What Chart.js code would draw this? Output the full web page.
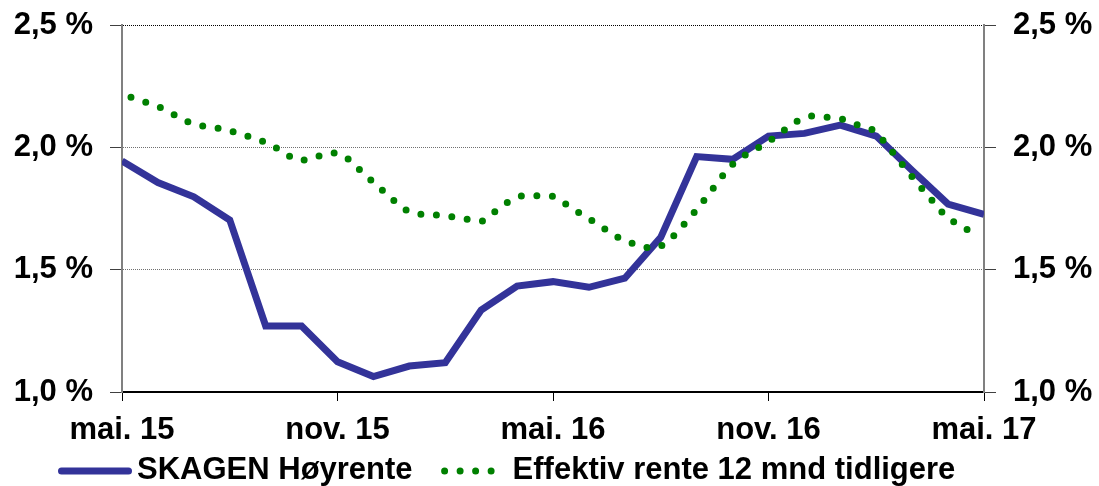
<!DOCTYPE html>
<html>
<head>
<meta charset="utf-8">
<script src="https://cdn.jsdelivr.net/npm/chart.js@4/dist/chart.umd.min.js"></script>
<style>
    html, body { margin: 0; padding: 0; background: #ffffff; }
    #wrap { width: 1099px; height: 486px; position: relative; }
</style>
</head>
<body>
<div id="wrap"><canvas id="chart"></canvas></div>
<script>
// x axis: months since mai. 15
const tickMonths = [0, 6, 12, 18, 24];
const tickLabels = ['mai. 15', 'nov. 15', 'mai. 16', 'nov. 16', 'mai. 17'];

const seriesNames = ['SKAGEN Høyrente', 'Effektiv rente 12 mnd tidligere'];

// SKAGEN Høyrente, monthly (%)
const hoyrente = [
    1.944, 1.856, 1.798, 1.703, 1.270, 1.270, 1.124, 1.063, 1.106, 1.120,
    1.335, 1.433, 1.451, 1.428, 1.465, 1.632, 1.962, 1.951, 2.046, 2.057,
    2.091, 2.046, 1.905, 1.768, 1.726
];

// Effektiv rente 12 mnd tidligere (%)
const effMonths = [
    0.25, 0.69, 1.11, 1.51, 1.92, 2.35, 2.80, 3.24, 3.67, 4.09,
    4.48, 4.89, 5.31, 5.73, 6.13, 6.48, 6.81, 7.15, 7.49, 7.82,
    8.23, 8.68, 9.12, 9.58, 10.02, 10.38, 10.75, 11.14, 11.60, 12.04,
    12.42, 12.80, 13.19, 13.56, 13.96, 14.38, 14.82, 15.17, 15.49, 15.79,
    16.08, 16.35, 16.63, 16.91, 17.25, 17.65, 18.03, 18.40, 18.77, 19.17,
    19.62, 20.06, 20.50, 20.92, 21.23, 21.51, 21.79, 22.07, 22.36, 22.66,
    22.96, 23.34, 23.73
];
const effRente = [
    2.205, 2.183, 2.160, 2.129, 2.099, 2.084, 2.075, 2.057, 2.037, 2.014,
    1.981, 1.948, 1.956, 1.976, 1.970, 1.927, 1.882, 1.838, 1.793, 1.751,
    1.728, 1.724, 1.718, 1.707, 1.698, 1.737, 1.777, 1.802, 1.802, 1.798,
    1.762, 1.726, 1.691, 1.655, 1.620, 1.601, 1.587, 1.612, 1.659, 1.710,
    1.760, 1.812, 1.865, 1.918, 1.959, 1.993, 2.027, 2.066, 2.105, 2.128,
    2.123, 2.115, 2.091, 2.070, 2.022, 1.970, 1.918, 1.867, 1.816, 1.766,
    1.715, 1.680, 1.647
];

const yMin = 1.0;
const yMax = 2.5;
const yStep = 0.5;

const FONT = '"Liberation Sans", Arial, sans-serif';
const FONT_SIZE = 31;
const blue = '#333399';
const green = '#008000';

Chart.defaults.font.family = FONT;
Chart.defaults.font.size = FONT_SIZE;
Chart.defaults.font.weight = 'bold';
Chart.defaults.color = '#000000';

function pct(v) {
    return v.toFixed(1).replace('.', ',') + ' %';
}

// legend drawn under the x labels, Excel style (sample + text close together)
const bottomLegend = {
    id: 'bottomLegend',
    afterDraw(chart) {
        const ctx = chart.ctx;
        const sampleW = [74, 66];
        let x = 58;
        const yLine = 471;
        ctx.save();
        ctx.font = 'bold ' + FONT_SIZE + 'px ' + FONT;
        ctx.textBaseline = 'alphabetic';
        ctx.textAlign = 'left';
        chart.data.datasets.forEach((ds, i) => {
            ctx.beginPath();
            ctx.lineWidth = ds.borderWidth;
            ctx.strokeStyle = ds.borderColor;
            ctx.lineCap = 'round';
            if (ds.borderDash && ds.borderDash.length) {
                ctx.setLineDash(ds.borderDash);
                ctx.moveTo(x + 3, yLine);
                ctx.lineTo(x + sampleW[i] - 1, yLine);
            } else {
                ctx.setLineDash([]);
                ctx.moveTo(x + 3.5, yLine);
                ctx.lineTo(x + sampleW[i] - 3.5, yLine);
            }
            ctx.stroke();
            ctx.setLineDash([]);
            x += sampleW[i] + 5;
            ctx.fillStyle = '#000000';
            ctx.fillText(ds.label, x, 479);
            x += ctx.measureText(ds.label).width + 29;
        });
        ctx.restore();
    }
};

// the tick labels may overhang the plot at top/bottom, like in Excel
function yFit(width) {
    return (s) => {
        s.width = width;
        s.paddingTop = 0;
        s.paddingBottom = 0;
    };
}

const yAxisBase = {
    type: 'linear',
    min: yMin,
    max: yMax,
    ticks: {
        stepSize: yStep,
        padding: 17,
        color: '#000000',
        callback: (v) => pct(v)
    },
    border: { display: true, color: '#808080', width: 2, dash: [1, 1] },
};

const ctx = document.getElementById('chart').getContext('2d');
new Chart(ctx, {
    type: 'line',
    data: {
        datasets: [
            {
                label: seriesNames[0],
                data: hoyrente.map((v, i) => ({ x: i, y: v })),
                borderColor: blue,
                backgroundColor: blue,
                borderWidth: 7,
                pointRadius: 0,
                tension: 0,
                fill: false,
                order: 1
            },
            {
                label: seriesNames[1],
                data: effRente.map((v, i) => ({ x: effMonths[i], y: v })),
                borderColor: green,
                backgroundColor: green,
                borderWidth: 7,
                borderDash: [0, 15.5],
                borderCapStyle: 'round',
                pointRadius: 0,
                tension: 0.3,
                fill: false,
                order: 0
            }
        ]
    },
    options: {
        responsive: true,
        maintainAspectRatio: false,
        animation: false,
        layout: { padding: { top: 25, left: 0, right: 0, bottom: 0 } },
        plugins: {
            legend: { display: false },
            tooltip: { enabled: false }
        },
        scales: {
            x: {
                type: 'linear',
                min: 0,
                max: 24,
                afterFit: (s) => { s.height = 94; },
                afterBuildTicks: (s) => { s.ticks = tickMonths.map(v => ({ value: v })); },
                ticks: {
                    autoSkip: false,
                    maxRotation: 0,
                    padding: 11,
                    color: '#000000',
                    callback: (v) => tickLabels[tickMonths.indexOf(v)]
                },
                grid: {
                    drawOnChartArea: false,
                    drawTicks: true,
                    tickLength: 9,
                    tickColor: '#000000',
                    tickWidth: 1
                },
                border: { display: true, color: '#000000', width: 2 }
            },
            y: Object.assign({}, yAxisBase, {
                position: 'left',
                afterFit: yFit(122),
                grid: {
                    drawOnChartArea: true,
                    color: (c) => (c.tick && c.tick.value === yMax ? '#000000' : '#707070'),
                    lineWidth: 1,
                    tickLength: 12,
                    tickColor: '#404040',
                    tickBorderDash: []
                }
            }),
            y2: Object.assign({}, yAxisBase, {
                position: 'right',
                afterFit: yFit(115),
                grid: {
                    drawOnChartArea: false,
                    tickLength: 12,
                    tickColor: '#404040',
                    tickBorderDash: []
                }
            })
        }
    },
    plugins: [bottomLegend]
});
</script>
</body>
</html>
